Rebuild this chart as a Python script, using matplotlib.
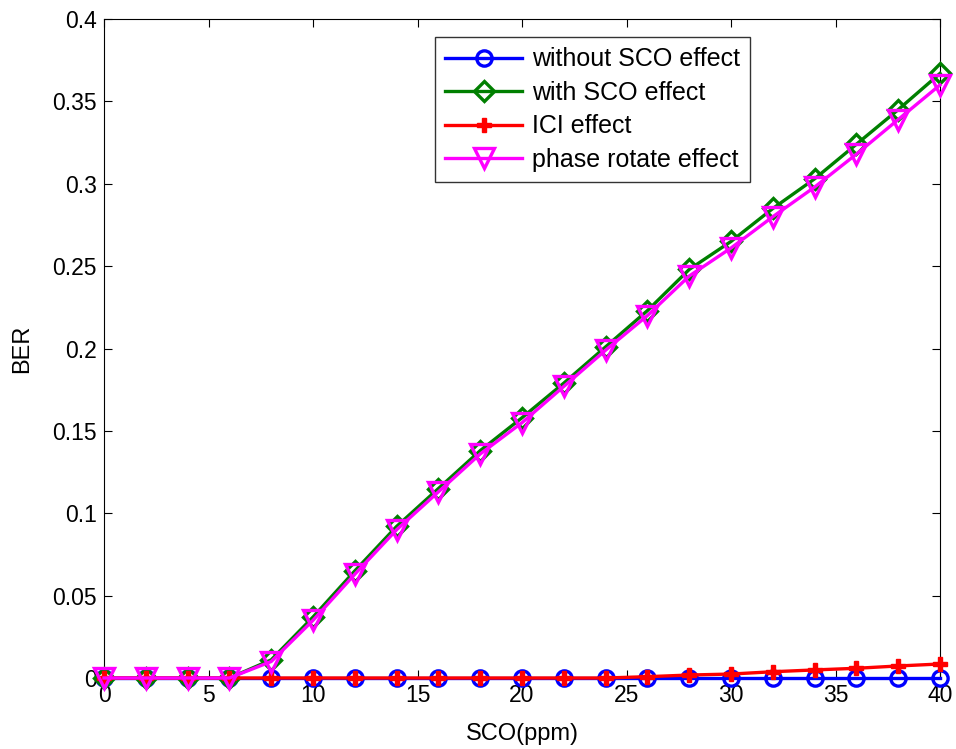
import matplotlib
matplotlib.use("Agg")
import matplotlib.pyplot as plt

plt.rcParams['font.family'] = ['Liberation Sans', 'DejaVu Sans']

sco = [0, 2, 4, 6, 8, 10, 12, 14, 16, 18, 20, 22, 24, 26, 28, 30, 32, 34, 36, 38, 40]
ber_without = [0.0] * 21
ber_with = [0, 0, 0, 0, 0.011, 0.037, 0.065, 0.092, 0.115, 0.138, 0.158, 0.179, 0.201,
            0.223, 0.248, 0.265, 0.285, 0.303, 0.324, 0.345, 0.367]
ber_ici = [0, 0, 0, 0, 0, 0, 0, 0, 0, 0, 0, 0, 0,
           0.0008, 0.0018, 0.0024, 0.0038, 0.0049, 0.0059, 0.0073, 0.0085]
ber_phase = [0, 0, 0, 0, 0.010, 0.035, 0.063, 0.090, 0.113, 0.136, 0.155, 0.177, 0.199,
             0.220, 0.244, 0.261, 0.280, 0.298, 0.318, 0.339, 0.360]

labels = ['without SCO effect', 'with SCO effect', 'ICI effect', 'phase rotate effect']

fig = plt.figure(figsize=(9.56, 7.49), dpi=100)
ax = fig.add_axes([0.1088, 0.0948, 0.8745, 0.8798])

lw = 2.4
ax.plot(sco, ber_without, color='#0000ff', lw=lw, marker='o', ms=11, mew=2.4,
        mfc='none', label=labels[0], clip_on=False, zorder=3)
ax.plot(sco, ber_with, color='#007f00', lw=lw, marker='D', ms=10, mew=2.4,
        mfc='none', label=labels[1], clip_on=False, zorder=3)
ax.plot(sco, ber_ici, color='#ff0000', lw=lw, marker='P', ms=10, mew=1,
        mfc='#ff0000', label=labels[2], clip_on=False, zorder=3)
ax.plot(sco, ber_phase, color='#ff00ff', lw=lw, marker='v', ms=14, mew=2.4,
        mfc='none', label=labels[3], clip_on=False, zorder=3)

ax.set_xlim(0, 40)
ax.set_ylim(0, 0.4)
ax.set_xticks(range(0, 41, 5))
ax.set_xticklabels([str(v) for v in range(0, 41, 5)])
yt = [0, 0.05, 0.1, 0.15, 0.2, 0.25, 0.3, 0.35, 0.4]
ax.set_yticks(yt)
ax.set_yticklabels(['0', '0.05', '0.1', '0.15', '0.2', '0.25', '0.3', '0.35', '0.4'])
ax.tick_params(direction='in', top=True, right=True, labelsize=16.5, length=6, width=0.8)
ax.tick_params(axis='y', pad=5)
ax.tick_params(axis='x', pad=4)
for s in ax.spines.values():
    s.set_linewidth(0.8)

ax.set_xlabel('SCO(ppm)', fontsize=17, labelpad=12)
ax.set_ylabel('BER', fontsize=17, labelpad=14)

leg = ax.legend(loc='upper right', bbox_to_anchor=(0.773, 0.972), fontsize=18,
                frameon=True, fancybox=False, edgecolor='black', handlelength=3.1,
                borderpad=0.4, labelspacing=0.38, handletextpad=0.4, borderaxespad=0)
leg.get_frame().set_linewidth(1.0)

fig.savefig('out.png', dpi=100, facecolor='white')
